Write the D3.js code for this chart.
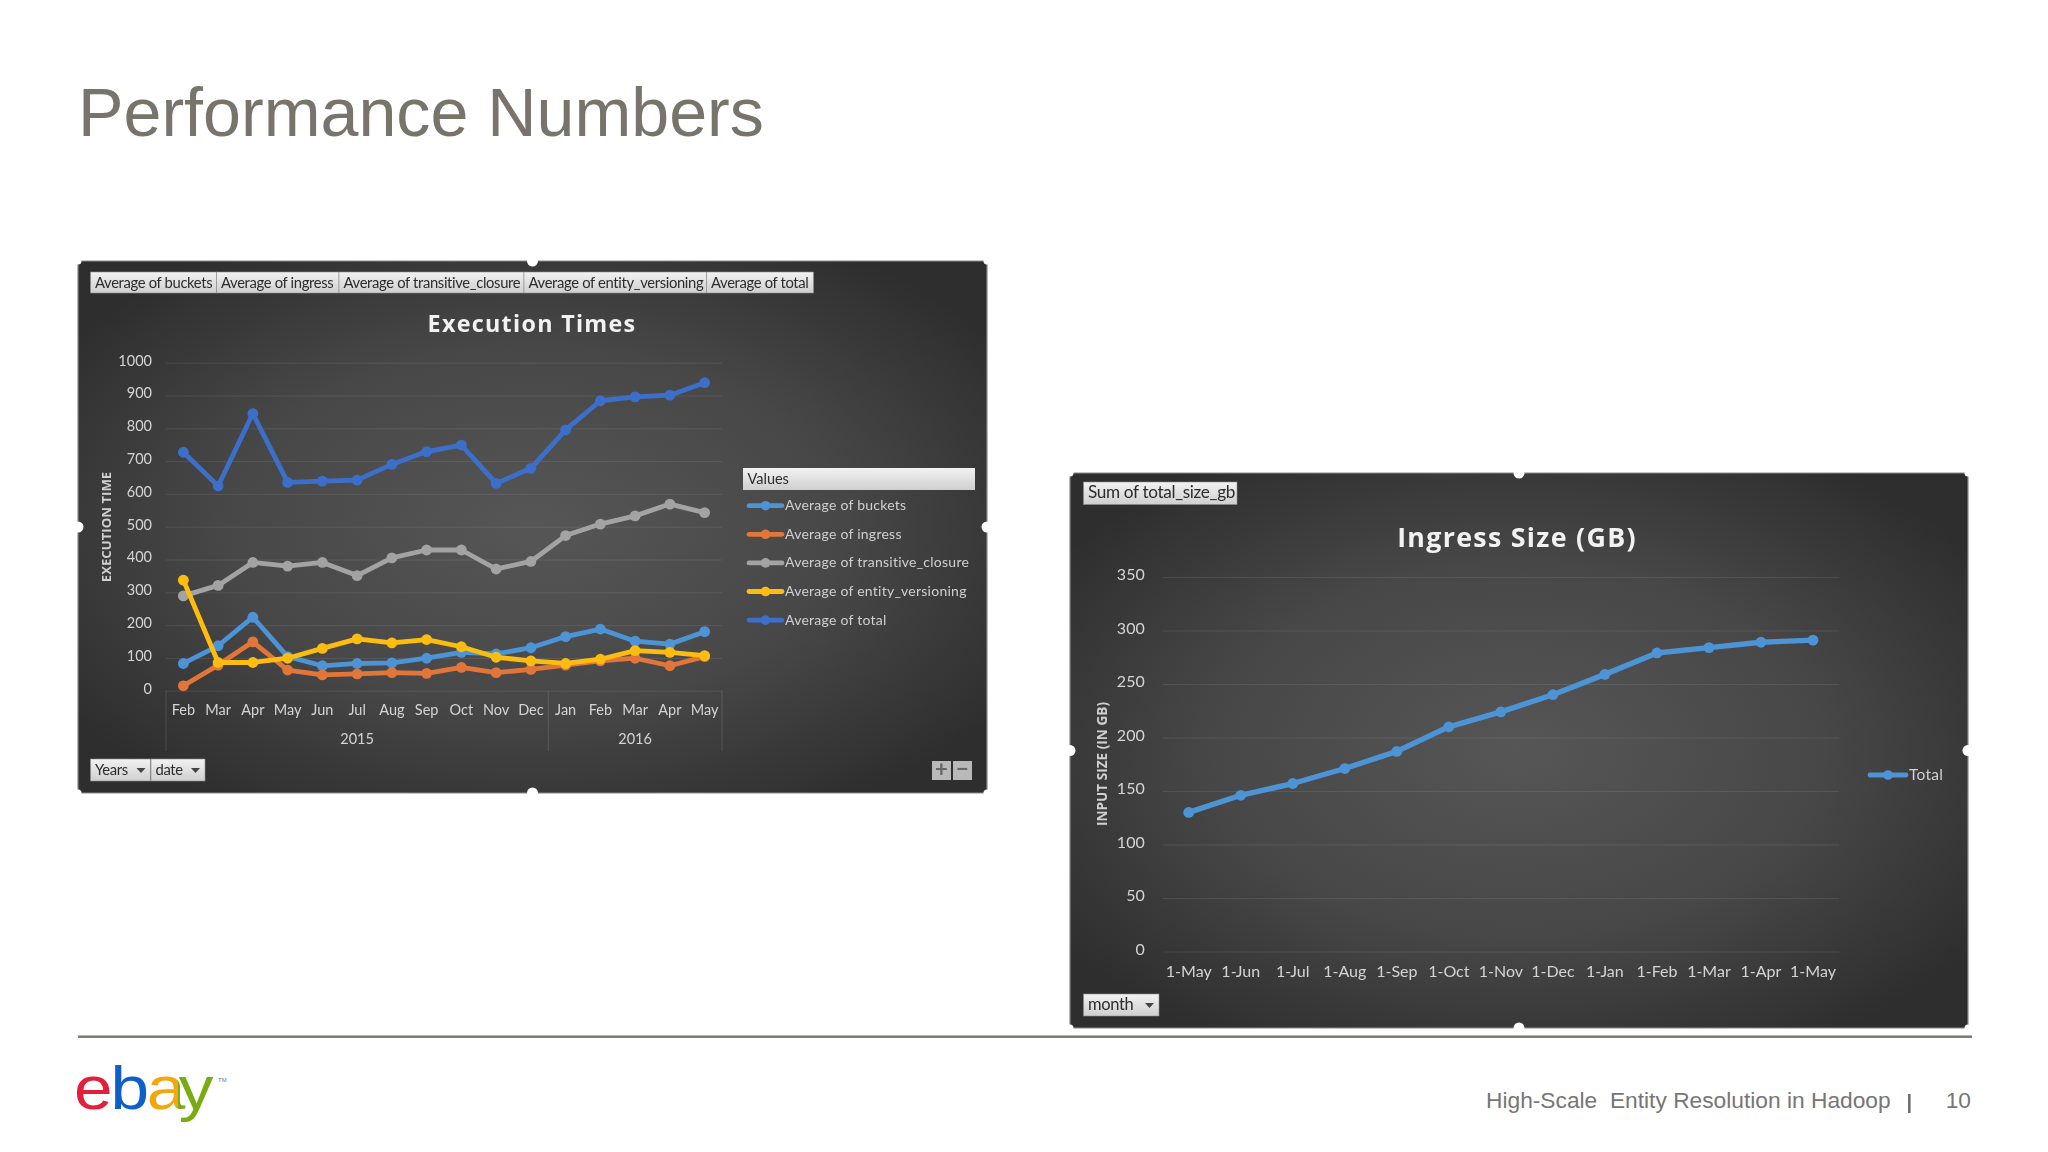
<!DOCTYPE html>
<html>
<head>
<meta charset="utf-8">
<title>Performance Numbers</title>
<script src="https://cdn.jsdelivr.net/npm/d3@7"></script>
<style>
html,body{margin:0;padding:0;background:#fff;}
svg{display:block;}
.axis path{display:none;}
.soft{filter:blur(0.55px);}
</style>
</head>
<body>
<svg id="slide" width="2048" height="1152" font-family="Lato, sans-serif"></svg>
<script>
// chart 1: Execution Times
var execMonths = ["Feb","Mar","Apr","May","Jun","Jul","Aug","Sep","Oct","Nov","Dec","Jan","Feb","Mar","Apr","May"];
var execYears = [["2015",11],["2016",5]];
var execTicks = [0,100,200,300,400,500,600,700,800,900,1000];
var buckets = [83,137,224,104,76,83,85,99,117,112,131,165,188,151,142,180];
var ingress = [15,78,149,63,48,51,55,53,71,55,65,78,91,99,76,104];
var transitiveClosure = [289,321,391,380,391,351,405,429,429,371,394,473,508,533,569,543];
var entityVersioning = [337,86,86,99,129,158,146,156,134,102,91,83,96,122,117,107];
var total = [727,624,845,635,639,642,690,729,749,632,678,795,884,896,901,939];
var execNames = ["Average of buckets","Average of ingress","Average of transitive_closure","Average of entity_versioning","Average of total"];
var execColors = ["#4d94d6","#e2763a","#a3a3a3","#fdbd10","#3c6fc9"];
var execFilters = ["Average of buckets","Average of ingress","Average of transitive_closure","Average of entity_versioning","Average of total"];

// chart 2: Ingress Size (GB)
var ingressMonths = ["1-May","1-Jun","1-Jul","1-Aug","1-Sep","1-Oct","1-Nov","1-Dec","1-Jan","1-Feb","1-Mar","1-Apr","1-May"];
var ingressTicks = [0,50,100,150,200,250,300,350];
var ingressTotal = [130,146,157,171,187,210,224,240,259,279,284,289,291];

var sans = "Liberation Sans, Arial, sans-serif";

var svg = d3.select("#slide");
var defs = svg.append("defs");

var grad = defs.append("radialGradient").attr("id","panelBg").attr("cx","50%").attr("cy","50%").attr("r","62%");
grad.append("stop").attr("offset","0%").attr("stop-color","#565656");
grad.append("stop").attr("offset","55%").attr("stop-color","#474748");
grad.append("stop").attr("offset","100%").attr("stop-color","#2e2e2f");

var btnGrad = defs.append("linearGradient").attr("id","btnBg").attr("x1",0).attr("y1",0).attr("x2",0).attr("y2",1);
btnGrad.append("stop").attr("offset","0%").attr("stop-color","#f2f2f2");
btnGrad.append("stop").attr("offset","100%").attr("stop-color","#cfcfcf");

// logo colours change at the letter edges, hard stops along the word
var logoStops = [[0,"#e3203a"],[0.264,"#e3203a"],[0.264,"#0f5fc9"],[0.52,"#0f5fc9"],[0.52,"#f2a60f"],[0.743,"#f2a60f"],[0.743,"#78ac12"],[1,"#78ac12"]];
var logoGrad = defs.append("linearGradient").attr("id","logoFill").attr("gradientUnits","userSpaceOnUse")
    .attr("x1",0).attr("x2",125).attr("y1",0).attr("y2",0);
logoStops.forEach(function(d){
    logoGrad.append("stop").attr("offset",d[0]).attr("stop-color",d[1]);
});

var slide = svg.append("g").attr("font-family",sans);

slide.append("text").attr("x",78).attr("y",136)
    .attr("font-size",68.2).attr("fill","#78746c").text("Performance Numbers");

slide.append("rect").attr("x",78).attr("y",1035.5).attr("width",1894).attr("height",2.4).attr("fill","#77756e");

// footer
slide.append("text").attr("x",1486).attr("y",1108).attr("font-size",22.75).attr("fill","#767676")
    .style("white-space","pre").text("High-Scale  Entity Resolution in Hadoop");
slide.append("rect").attr("x",1908).attr("y",1094).attr("width",2.6).attr("height",19).attr("fill","#6f6f6f");
slide.append("text").attr("x",1971).attr("y",1108).attr("text-anchor","end").attr("font-size",22.75).attr("fill","#767676").text("10");

// logo
slide.append("text").attr("transform","translate(74,1109) scale(1.12,1)").attr("font-size",62)
    .attr("dx","0 -2 -2 -6").attr("fill","url(#logoFill)").text("ebay");
slide.append("text").attr("x",218).attr("y",1082).attr("font-size",6).attr("fill","#777").text("TM");

function button(g,x,y,w,h,label,arrow,size){
    g.append("rect").attr("x",x).attr("y",y).attr("width",w).attr("height",h)
        .attr("fill","url(#btnBg)").attr("stroke","#8c8c8c").attr("stroke-width",0.6);
    g.append("text").attr("x",x+4.5).attr("y",y+h/2+5).attr("font-size",size||14.8)
        .attr("fill","#2c2c2c").attr("letter-spacing",-0.35).text(label);
    if(arrow){
        g.append("path").attr("d","M"+(x+w-14)+" "+(y+h/2-2)+"h9l-4.5 5z").attr("fill","#444");
    }
}

function panel(box){
    var g = svg.append("g").attr("class","soft");
    var w = box.right-box.left, h = box.bottom-box.top;
    g.append("rect").attr("x",box.left).attr("y",box.top).attr("width",w).attr("height",h).attr("rx",3)
        .attr("fill","url(#panelBg)").attr("stroke","#8a8a8a").attr("stroke-width",1.2);
    // resize handles
    var mx = box.left+w/2, my = box.top+h/2;
    [[mx,box.top],[mx,box.bottom],[box.left,my],[box.right,my]].forEach(function(p){
        g.append("circle").attr("cx",p[0]).attr("cy",p[1]).attr("r",5.5).attr("fill","#fff");
    });
    [[box.left,box.top],[box.right,box.top],[box.left,box.bottom],[box.right,box.bottom]].forEach(function(p){
        g.append("circle").attr("cx",p[0]).attr("cy",p[1]).attr("r",3.5).attr("fill","#fff");
    });
    return g;
}

function plot(g,cfg){
    var x = d3.scaleBand().domain(d3.range(cfg.labels.length)).range([cfg.x0,cfg.x1]);
    var y = d3.scaleLinear().domain([0,cfg.ymax]).range([cfg.y0,cfg.y1]);

    var yAxis = d3.axisLeft(y).tickValues(cfg.ticks).tickFormat(d3.format("d"))
        .tickSizeInner(-(cfg.x1-cfg.x0)).tickSizeOuter(0).tickPadding(cfg.pad);
    var ya = g.append("g").attr("class","axis").attr("transform","translate("+cfg.x0+",0)").call(yAxis);
    ya.selectAll("line").attr("stroke","#fff").attr("stroke-opacity",0.09);
    ya.selectAll("text").attr("font-size",cfg.font).attr("fill","#d4d4d4").attr("font-family","Lato").attr("dy","0.16em");

    var xAxis = d3.axisBottom(x).tickSize(0).tickPadding(cfg.xpad).tickFormat(function(i){return cfg.labels[i];});
    var xa = g.append("g").attr("class","axis").attr("transform","translate(0,"+cfg.y0+")").call(xAxis);
    xa.selectAll("text").attr("font-size",cfg.font).attr("fill","#d4d4d4").attr("font-family","Lato");

    var line = d3.line().x(function(d,i){return x(i)+x.bandwidth()/2;}).y(function(d){return y(d);});
    cfg.series.forEach(function(s){
        g.append("path").datum(s.values).attr("d",line).attr("fill","none")
            .attr("stroke",s.color).attr("stroke-width",cfg.stroke).attr("stroke-linejoin","round").attr("stroke-linecap","round");
        g.selectAll(null).data(s.values).enter().append("circle")
            .attr("cx",function(d,i){return x(i)+x.bandwidth()/2;})
            .attr("cy",function(d){return y(d);})
            .attr("r",5.4).attr("fill",s.color);
    });
    return x;
}

function legendRow(g,x,yy,color,label,size,width){
    g.append("line").attr("x1",x).attr("x2",x+width).attr("y1",yy).attr("y2",yy)
        .attr("stroke",color).attr("stroke-width",4.8).attr("stroke-linecap","round");
    g.append("circle").attr("cx",x+width/2).attr("cy",yy).attr("r",4.8).attr("fill",color);
    g.append("text").attr("x",x+width+3).attr("y",yy+4.5).attr("font-size",size).attr("fill","#d0d0d0")
        .attr("letter-spacing",0.25).text(label);
}

function chartTitle(g,x,yy,label,size){
    g.append("text").attr("x",x).attr("y",yy).attr("text-anchor","middle").attr("font-size",size).attr("font-weight",700)
        .attr("font-family","Open Sans").attr("letter-spacing",1.3).attr("fill","#f2f2f2").text(label);
}

function yTitle(g,x,yy,label,size){
    g.append("text").attr("transform","translate("+x+","+yy+") rotate(-90)").attr("text-anchor","middle")
        .attr("font-size",size).attr("font-weight",700).attr("font-family","Open Sans").attr("fill","#d0d0d0").text(label);
}

// ---- Execution Times ----
var g1 = panel({left:78,top:261,right:987,bottom:793});
var filterEdges = [90.5,216.5,339,524,706.5,813.5];
execFilters.forEach(function(d,i){
    button(g1,filterEdges[i],272,filterEdges[i+1]-filterEdges[i],21,d,false,14.8);
});
chartTitle(g1,532,332,"Execution Times",23.3);
yTitle(g1,111,527,"EXECUTION TIME",13.2);
var execValues = [buckets,ingress,transitiveClosure,entityVersioning,total];
var x1 = plot(g1,{
    labels:execMonths,ticks:execTicks,ymax:1000,
    x0:166,x1:722,y0:690.7,y1:362.7,pad:14,xpad:14,font:14.5,stroke:4.8,
    series:execValues.map(function(v,i){return {values:v,color:execColors[i]};})
});
// year level of the axis
var yearStart = 0;
g1.append("line").attr("x1",x1(0)).attr("x2",x1(0)).attr("y1",690.7).attr("y2",751).attr("stroke","#fff").attr("stroke-opacity",0.12);
execYears.forEach(function(d){
    var from = x1(yearStart), to = from+d[1]*x1.bandwidth();
    g1.append("line").attr("x1",to).attr("x2",to).attr("y1",690.7).attr("y2",751).attr("stroke","#fff").attr("stroke-opacity",0.12);
    g1.append("text").attr("x",(from+to)/2).attr("y",744).attr("text-anchor","middle").attr("font-size",14.5).attr("fill","#d4d4d4").text(d[0]);
    yearStart += d[1];
});
// legend
g1.append("rect").attr("x",743).attr("y",468).attr("width",232).attr("height",22).attr("fill","url(#btnBg)");
g1.append("text").attr("x",747.5).attr("y",484).attr("font-size",14.5).attr("fill","#2c2c2c").text("Values");
execNames.forEach(function(d,i){
    legendRow(g1,749,505.7+i*28.6,execColors[i],d,14,33);
});
button(g1,90.5,759,60,22,"Years",true);
button(g1,151,759,54,22,"date",true);
// plus and minus buttons
[[932,"+"],[953,"\u2212"]].forEach(function(d){
    g1.append("rect").attr("x",d[0]).attr("y",761).attr("width",19).attr("height",19).attr("fill","#b9b9b9");
    g1.append("text").attr("x",d[0]+9.5).attr("y",777).attr("text-anchor","middle").attr("font-size",22).attr("font-weight",700)
        .attr("fill","#666").text(d[1]);
});

// ---- Ingress Size ----
var g2 = panel({left:1070,top:473,right:1968,bottom:1028});
button(g2,1083.5,482,153.5,22.5,"Sum of total_size_gb",false,17.2);
chartTitle(g2,1517,547,"Ingress Size (GB)",26.8);
yTitle(g2,1107,764,"INPUT SIZE (IN GB)",13.6);
plot(g2,{
    labels:ingressMonths,ticks:ingressTicks,ymax:350,
    x0:1162.7,x1:1839,y0:951.5,y1:577,pad:18,xpad:14,font:16,stroke:5.4,
    series:[{values:ingressTotal,color:"#4d94d6"}]
});
legendRow(g2,1870,775,"#4d94d6","Total",15.5,36);
button(g2,1083.5,994,75.5,22,"month",true,16.5);
</script>
</body>
</html>
